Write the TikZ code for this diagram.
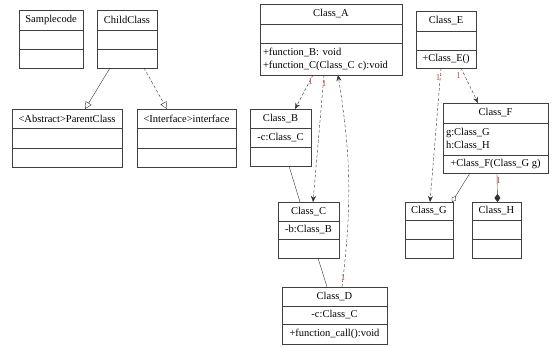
\documentclass[tikz,border=0pt]{standalone}
\usepackage{xcolor}
\usepackage{fontspec}
\setmainfont{Liberation Serif}
\usepackage{tikz}
\usetikzlibrary{positioning,arrows.meta}
\definecolor{multred}{RGB}{205,70,70}

\begin{document}
\begin{tikzpicture}[x=1pt,y=-1pt,font=\fontsize{10.5}{13}\selectfont,
    cls/.style={draw=black!75,line width=0.7pt,minimum height=20,inner sep=2pt,outer sep=0pt},
    mult/.style={text=multred,font=\fontsize{9}{9}\selectfont,inner sep=0pt},
    inh/.style={draw=black!80,-{Triangle[open,length=7pt,width=7pt]}},
    dep/.style={draw=black!80,dash pattern=on 3pt off 2pt,-{Stealth[length=6pt,width=5pt]}},
    assoc/.style={draw=black!80}]
    \useasboundingbox (0,0) rectangle (554,347);

    \node[cls,minimum width=64,anchor=north west] (samplecode) at (19,10) {Samplecode};
    \node[cls,minimum width=64,minimum height=19,below=0pt of samplecode] (samplecode-a) {};
    \node[cls,minimum width=64,minimum height=19,below=0pt of samplecode-a] (samplecode-m) {};

    \node[cls,minimum width=60,anchor=north west] (childclass) at (97,10) {ChildClass};
    \node[cls,minimum width=60,minimum height=19,below=0pt of childclass] (childclass-a) {};
    \node[cls,minimum width=60,minimum height=19,below=0pt of childclass-a] (childclass-m) {};

    \node[cls,minimum width=110,minimum height=19,anchor=north west] (parentclass) at (12,109) {<Abstract>ParentClass};
    \node[cls,minimum width=110,below=0pt of parentclass] (parentclass-a) {};
    \node[cls,minimum width=110,minimum height=19,below=0pt of parentclass-a] (parentclass-m) {};

    \node[cls,minimum width=99,minimum height=19,anchor=north west] (interface) at (137,109) {<Interface>interface};
    \node[cls,minimum width=99,below=0pt of interface] (interface-a) {};
    \node[cls,minimum width=99,minimum height=19,below=0pt of interface-a] (interface-m) {};

    \node[cls,minimum width=142,anchor=north west] (classa) at (260,4) {Class\_A};
    \node[cls,minimum width=142,minimum height=19,below=0pt of classa] (classa-a) {};
    \node[cls,inner xsep=3pt,text width=136,align=left,minimum height=32,below=0pt of classa-a] (classa-m) {+function\_B: void\\+function\_C(Class\_C c):void};

    \node[cls,minimum width=61,minimum height=19,anchor=north west] (classb) at (250,109) {Class\_B};
    \node[cls,minimum width=61,minimum height=19,below=0pt of classb] (classb-a) {-c:Class\_C};
    \node[cls,minimum width=61,minimum height=19,below=0pt of classb-a] (classb-m) {};

    \node[cls,minimum width=61,minimum height=19,anchor=north west] (classc) at (278,202) {Class\_C};
    \node[cls,minimum width=61,minimum height=18,below=0pt of classc] (classc-a) {-b:Class\_B};
    \node[cls,minimum width=61,minimum height=19,below=0pt of classc-a] (classc-m) {};

    \node[cls,minimum width=105,minimum height=19,anchor=north west] (classd) at (282,287) {Class\_D};
    \node[cls,minimum width=105,minimum height=18,below=0pt of classd] (classd-a) {-c:Class\_C};
    \node[cls,minimum width=105,below=0pt of classd-a] (classd-m) {+function\_call():void};

    \node[cls,minimum width=60,anchor=north west] (classe) at (416,11) {Class\_E};
    \node[cls,minimum width=60,minimum height=19,below=0pt of classe] (classe-a) {};
    \node[cls,minimum width=60,minimum height=18,below=0pt of classe-a] (classe-m) {+Class\_E()};

    \node[cls,minimum width=105,anchor=north west] (classf) at (443,103) {Class\_F};
    \node[cls,inner xsep=3pt,text width=99,align=left,minimum height=32,below=0pt of classf] (classf-a) {g:Class\_G\\h:Class\_H};
    \node[cls,minimum width=105,minimum height=18,below=0pt of classf-a] (classf-m) {+Class\_F(Class\_G g)};

    \node[cls,minimum width=48,minimum height=18,anchor=north west] (classg) at (405,202) {Class\_G};
    \node[cls,minimum width=48,minimum height=19,below=0pt of classg] (classg-a) {};
    \node[cls,minimum width=48,minimum height=19,below=0pt of classg-a] (classg-m) {};

    \node[cls,minimum width=49,minimum height=18,anchor=north west] (classh) at (472,202) {Class\_H};
    \node[cls,minimum width=49,minimum height=19,below=0pt of classh] (classh-a) {};
    \node[cls,minimum width=49,minimum height=19,below=0pt of classh-a] (classh-m) {};

    \draw[inh] ([xshift=-17]childclass-m.south) -- ([xshift=18]parentclass.north);
    \draw[inh,dash pattern=on 3pt off 2pt] ([xshift=17]childclass-m.south) -- ([xshift=-19.5]interface.north);

    \draw[dep] ([xshift=-18]classa-m.south) -- node[mult,pos=0.2,xshift=1] (ab1) {1} ([xshift=14.5]classb.north);
    \draw[dep] ([xshift=-7]classa-m.south) -- node[mult,pos=0.07,xshift=1] (ac1) {1} ([xshift=4.5]classc.north);
    \draw[dep] ([xshift=7.5]classd.north) to[bend right=8] node[mult,pos=0.04] (da1) {1} ([xshift=7]classa-m.south);
    \draw[assoc] ([xshift=8.5]classb-m.south) -- ([xshift=-8.5]classc.north);
    \draw[assoc] ([xshift=9.5]classc-m.south) -- ([xshift=-7.5]classd.north);

    \draw[dep] ([xshift=-5]classe-m.south) -- node[mult,pos=0.07,xshift=-2] (eg1) {1} ([xshift=1]classg.north);
    \draw[dep] ([xshift=15]classe-m.south) -- node[mult,pos=0.22,xshift=-6] (ef1) {1} ([xshift=-17.5]classf.north);
    \draw[assoc,-{Diamond[open,length=7pt,width=5pt]}] ([xshift=-25.5]classf-m.south) -- ([xshift=-1]classg.north east);
    \draw[assoc,-{Diamond[length=8pt,width=6pt]}] ([xshift=1.5]classf-m.south) -- node[mult,pos=0.25,xshift=1.5] (fh1) {1} ([xshift=1]classh.north);
\end{tikzpicture}
\end{document}
